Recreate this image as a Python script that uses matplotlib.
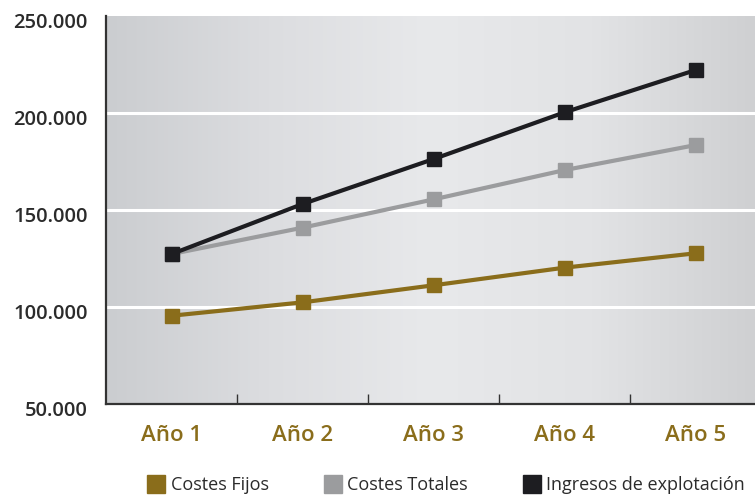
import numpy as np
import matplotlib.pyplot as plt
from matplotlib.colors import LinearSegmentedColormap
from matplotlib.lines import Line2D
from matplotlib.transforms import ScaledTranslation

anios = ['Año 1', 'Año 2', 'Año 3', 'Año 4', 'Año 5']
costes_fijos = [95500, 102400, 111200, 120300, 127700]
costes_totales = [127300, 140900, 155500, 170600, 183500]
ingresos = [127300, 153100, 176300, 200400, 222200]
y_ticks = [50000, 100000, 150000, 200000, 250000]
y_labels = ['50.000', '100.000', '150.000', '200.000', '250.000']

c_fijos = '#8a6d1b'
c_totales = '#9b9c9e'
c_ingresos = '#1d1d21'
c_text = '#2b2b2b'

fig = plt.figure(figsize=(7.55, 4.95), dpi=100)
ax = fig.add_axes([106/755, 1-404/495, 1-106/755, 388/495])

# fondo degradado gris
cmap = LinearSegmentedColormap.from_list('fondo', ['#cbcdd0', '#dcdde0', '#e8e9eb', '#e2e3e5', '#cfd0d2'])
grad = np.linspace(0, 1, 256).reshape(1, -1)
ax.imshow(grad, cmap=cmap, aspect='auto', extent=[0, 1, 0, 1],
          transform=ax.transAxes, zorder=0)

x = np.arange(len(anios))
for yv in y_ticks[1:-1]:
    ax.axhline(yv, color='white', lw=2.2, zorder=1)

lw = 3
ms = 10
ax.plot(x, costes_fijos, color=c_fijos, lw=lw, marker='s', ms=ms, zorder=3)
ax.plot(x, costes_totales, color=c_totales, lw=lw, marker='s', ms=ms, zorder=3)
ax.plot(x, ingresos, color=c_ingresos, lw=lw, marker='s', ms=ms, zorder=4)

ax.set_xlim(-0.5, 4.45)
ax.set_ylim(50000, 250000)

ax.set_yticks(y_ticks)
ax.set_yticklabels(y_labels)
ax.set_xticks(x)
ax.set_xticklabels(anios)
ax.set_xticks(x[:-1] + 0.5, minor=True)
ax.tick_params(axis='y', length=0, pad=13, labelsize=14.5, labelcolor=c_text)
ax.tick_params(axis='x', which='major', length=0, pad=15, labelsize=16, labelcolor=c_fijos)
ax.tick_params(axis='x', which='minor', direction='in', length=7, width=1, color='#333333')
for lab in ax.get_yticklabels() + ax.get_xticklabels():
    lab.set_fontweight('semibold')
    lab.set_family('Open Sans')
# etiquetas del eje y un poco por debajo de la linea
off = ScaledTranslation(0, -3/72, fig.dpi_scale_trans)
for lab in ax.get_yticklabels():
    lab.set_transform(lab.get_transform() + off)

for s in ['top', 'right']:
    ax.spines[s].set_visible(False)
for s in ['left', 'bottom']:
    ax.spines[s].set_color('#333333')
    ax.spines[s].set_linewidth(1.6)

handles = [Line2D([], [], ls='none', marker='s', ms=13, color=c) for c in (c_fijos, c_totales, c_ingresos)]
fig.legend(handles, ['Costes Fijos', 'Costes Totales', 'Ingresos de explotación'],
           loc='center', bbox_to_anchor=(0.592, 0.02), ncol=3, frameon=False,
           handlelength=0.8, handletextpad=0.4, columnspacing=3.15,
           prop={'family': 'Open Sans', 'size': 13}, labelcolor=c_text)

fig.savefig('out.png', dpi=100, facecolor='white')
